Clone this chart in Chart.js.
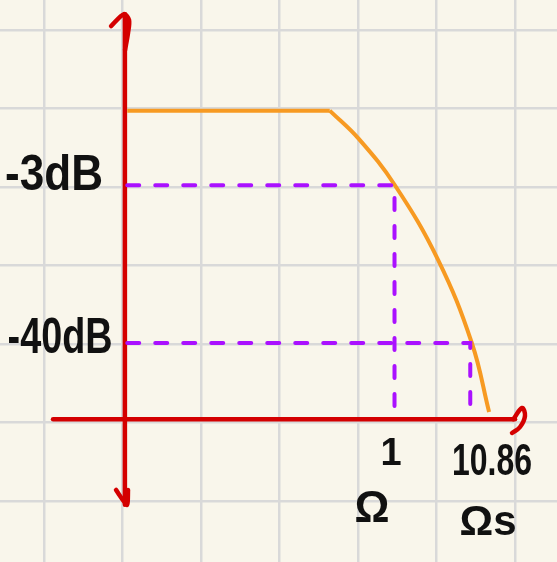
<!DOCTYPE html>
<html>
<head>
<meta charset="utf-8">
<script src="https://cdn.jsdelivr.net/npm/chart.js@4.4.0/dist/chart.umd.min.js"></script>
<style>
  body { margin: 0; background: #f9f6eb; }
  canvas { display: block; }
</style>
</head>
<body>
<canvas id="myChart" width="557" height="562"></canvas>
<script>
// units: one grid square = 1
var xGrid = [-1, 0, 1, 2, 3, 4, 5];
var yGrid = [-1, 0, 1, 2, 3, 4, 5];

// response curve (orange): flat part, then the roll-off
var flatX = [0.06, 2.64];
var flatY = [3.97, 3.97];
var rollX = [2.64, 3.01, 3.47, 4.02, 4.45, 4.67];
var rollY = [3.97, 3.61, 3.02, 2.07, 1.01, 0.13];

// dashed guides (purple)
var guide3X = [0.06, 3.465, 3.465];
var guide3Y = [3.02, 3.02, 0.13];
var guide40X = [0.06, 4.43, 4.43];
var guide40Y = [1.01, 1.01, 0.13];

// red axes + arrow hooks
var yAxisX = [0.03, 0.03];
var yAxisY = [5.2, -1.05];
var xAxisX = [-0.885, 5.0];
var xAxisY = [0.04, 0.04];
var topHookX = [-0.146, 0.019, 0.083, 0.07, 0.032];
var topHookY = [5.048, 5.201, 5.125, 4.96, 4.743];
var bottomHookX = [-0.083, 0.057, 0.07];
var bottomHookY = [-0.862, -1.053, -0.862];
var rightHookX = [4.98, 5.089, 5.127, 5.064, 4.962];
var rightHookY = [0.04, 0.182, 0.08, -0.06, -0.136];

// handwritten labels
var labelText = ['-3dB', '-40dB', '1', '10.86', 'Ω', 'Ωs'];
var labelX = [-0.873, -0.796, 3.42, 4.707, 3.178, 4.656];
var labelY = [2.959, 0.883, -0.544, -0.671, -1.27, -1.436];
var labelSize = [50, 50, 38, 44, 44, 42];
var labelWidth = [98, 105, 22, 80, 35, 60];

function pts(xs, ys) {
  var a = [];
  for (var i = 0; i < xs.length; i++) a.push({x: xs[i], y: ys[i]});
  return a;
}

var red = '#d40000';
var purple = '#aa11ff';
var orange = '#f79a22';

function redLine(xs, ys, t) {
  return {data: pts(xs, ys), showLine: true, borderColor: red, borderWidth: 4.5,
    pointRadius: 0, tension: t, borderCapStyle: 'round', borderJoinStyle: 'round', clip: false};
}
function dashLine(xs, ys) {
  return {data: pts(xs, ys), showLine: true, borderColor: purple, borderWidth: 4,
    pointRadius: 0, borderDash: [12, 16], borderCapStyle: 'round', clip: false};
}
function orangeLine(xs, ys, t) {
  return {data: pts(xs, ys), showLine: true, borderColor: orange, borderWidth: 4,
    pointRadius: 0, tension: t, borderJoinStyle: 'round', clip: false};
}

var bgPlugin = {
  id: 'bg',
  beforeDraw: function(chart) {
    var c = chart.ctx;
    c.save();
    c.fillStyle = '#f9f6eb';
    c.fillRect(0, 0, chart.width, chart.height);
    c.restore();
  }
};

var labelPlugin = {
  id: 'labels',
  afterDatasetsDraw: function(chart) {
    var c = chart.ctx;
    var sx = chart.scales.x, sy = chart.scales.y;
    c.save();
    c.fillStyle = '#111111';
    c.textAlign = 'center';
    c.textBaseline = 'alphabetic';
    for (var i = 0; i < labelText.length; i++) {
      c.font = 'bold ' + labelSize[i] + 'px "Liberation Sans", Arial, sans-serif';
      c.fillText(labelText[i], sx.getPixelForValue(labelX[i]), sy.getPixelForValue(labelY[i]), labelWidth[i]);
    }
    c.restore();
  }
};

var ctx = document.getElementById('myChart');
var myChart = new Chart(ctx, {
  type: 'scatter',
  data: {
    datasets: [
      dashLine(guide3X, guide3Y),
      dashLine(guide40X, guide40Y),
      orangeLine(flatX, flatY, 0),
      orangeLine(rollX, rollY, 0.4),
      redLine(yAxisX, yAxisY, 0),
      redLine(xAxisX, xAxisY, 0),
      redLine(topHookX, topHookY, 0.3),
      redLine(bottomHookX, bottomHookY, 0.2),
      redLine(rightHookX, rightHookY, 0.4)
    ]
  },
  options: {
    responsive: false,
    animation: false,
    layout: {padding: 0},
    plugins: {legend: {display: false}, tooltip: {enabled: false}},
    scales: {
      x: {
        type: 'linear', min: -1.561, max: 5.535,
        afterBuildTicks: function(s) { s.ticks = xGrid.map(function(v) { return {value: v}; }); },
        ticks: {display: false},
        grid: {color: '#d9d9d9', lineWidth: 2.5, drawTicks: false},
        border: {display: false}
      },
      y: {
        type: 'linear', min: -1.78, max: 5.38,
        afterBuildTicks: function(s) { s.ticks = yGrid.map(function(v) { return {value: v}; }); },
        ticks: {display: false},
        grid: {color: '#d9d9d9', lineWidth: 2.5, drawTicks: false},
        border: {display: false}
      }
    }
  },
  plugins: [bgPlugin, labelPlugin]
});
</script>
</body>
</html>
